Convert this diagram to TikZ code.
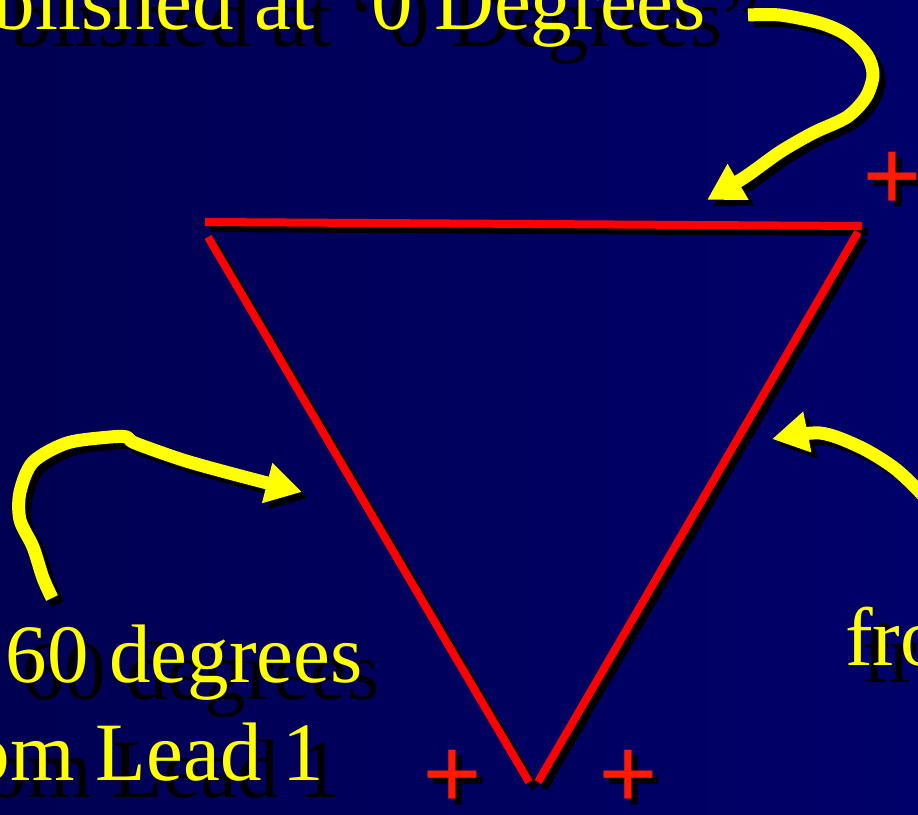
\documentclass[tikz,border=0pt]{standalone}
\usepackage{fontspec}
\setmainfont{Liberation Serif}
\usepackage{xcolor}
\usetikzlibrary{arrows.meta}
\definecolor{slidenavy}{RGB}{0,0,106}
\definecolor{slidedark}{RGB}{0,0,82}
\definecolor{leadred}{RGB}{255,0,0}
\definecolor{plusred}{RGB}{255,26,0}
\definecolor{notegold}{RGB}{255,255,0}

\begin{document}
\begin{tikzpicture}[x=1pt, y=-1pt,
  lead/.style={line width=8pt},
  pointer/.style={line width=13pt, line join=round,
    -{Triangle[length=36pt, width=39pt]}},
  slidetext/.style={font=\rmfamily\fontsize{83}{100}\selectfont, inner sep=0pt},
  polarity/.style={font=\rmfamily\bfseries\fontsize{105}{110}\selectfont,
    inner sep=0pt, anchor=base}]
  \useasboundingbox (0,0) rectangle (918,814);
  \clip (0,0) rectangle (918,814);

  % Slide background
  \shade[left color=slidedark, right color=slidenavy] (0,0) rectangle (918,814);

  % Captions, shadow first
  \foreach \d/\col in {17/black, 0/notegold}{
    \node[slidetext, text=\col, anchor=base east] (zero-\col) at (743+\d, 29+\d)
      {blished at “0 Degrees”};
    \node[slidetext, text=\col, anchor=base east] (sixty-\col) at (363+\d, 682+\d)
      {s 60 degrees};
    \node[slidetext, text=\col, anchor=base east] (leadone-\col) at (324+\d, 780+\d)
      {om Lead 1};
    \node[slidetext, text=\col, anchor=base west] (from-\col) at (845+\d, 665+\d)
      {fro};
  }

  % Lead lines of the triangle
  \foreach \d/\col in {6/black, 0/leadred}{
    \begin{scope}[shift={(\d,\d)}, \col]
      \draw[lead] (205,222) -- (862,226);
      \draw[lead] (208,237) -- (529,782);
      \draw[lead] (858,232) -- (538,782);
    \end{scope}
  }

  % Polarity signs
  \foreach \d/\col in {6/black, 0/plusred}{
    \node[polarity, text=\col] (plustop-\col) at (892+\d, 211+\d) {+};
    \node[polarity, text=\col] (plusleft-\col) at (452+\d, 809+\d) {+};
    \node[polarity, text=\col] (plusright-\col) at (628+\d, 809+\d) {+};
  }

  % Pointers to the leads
  \foreach \d/\col in {6/black, 0/notegold}{
    \begin{scope}[shift={(\d,\d)}]
      \draw[pointer, \col] plot[smooth, tension=0.5] coordinates
        {(748,15) (780,15) (820,23) (847,35) (867,55) (873,75) (866,97)
         (847,117) (813,133) (780,152) (745,177) (707,200)};
      \draw[pointer, \col] plot[smooth, tension=0.5] coordinates
        {(52,598) (43,578) (33,547) (20,520) (20,492) (33,462) (67,443)
         (110,437) (127,437) (135,443) (183,460) (233,474) (302,492)};
      \draw[pointer, \col] plot[smooth, tension=0.5] coordinates
        {(945,520) (918,490) (893,467) (860,447) (820,433) (772,439)};
    \end{scope}
  }
\end{tikzpicture}
\end{document}
